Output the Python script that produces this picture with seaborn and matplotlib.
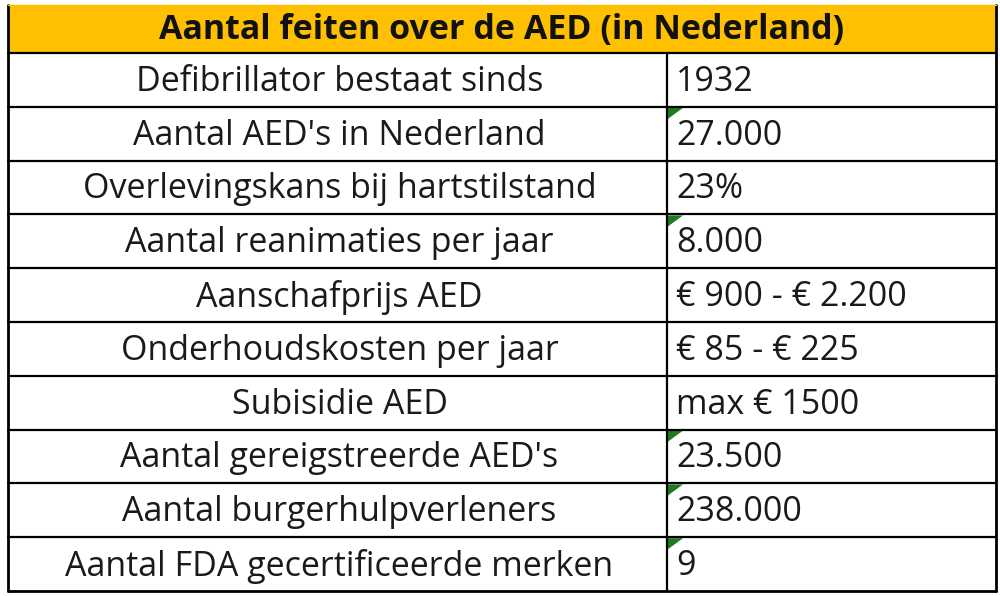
import numpy as np
import matplotlib.pyplot as plt
import seaborn as sns
from matplotlib.patches import Rectangle, Polygon

title = "Aantal feiten over de AED (in Nederland)"
labels = ["Defibrillator bestaat sinds", "Aantal AED's in Nederland",
          "Overlevingskans bij hartstilstand", "Aantal reanimaties per jaar",
          "Aanschafprijs AED", "Onderhoudskosten per jaar", "Subisidie AED",
          "Aantal gereigstreerde AED's", "Aantal burgerhulpverleners",
          "Aantal FDA gecertificeerde merken"]
values = ["1932", "27.000", "23%", "8.000", "€ 900 - € 2.200", "€ 85 - € 225",
          "max € 1500", "23.500", "238.000", "9"]
text_flag = [False, True, False, True, False, False, False, True, True, True]

sns.set_style("white")
plt.rcParams["font.family"] = ["Open Sans", "DejaVu Sans"]

fig = plt.figure(figsize=(10, 5.96), dpi=100)
ax = fig.add_axes([0, 0, 1, 1])
ax.set_xlim(0, 1000)
ax.set_ylim(596, 0)
ax.axis("off")

x0, xm, x1 = 8, 667, 996
y0, hh = 5, 48
rh = (591 - y0 - hh) / len(labels)

ax.add_patch(Rectangle((x0, y0), x1 - x0, hh, facecolor="#FFC000", edgecolor="none"))
ax.text((x0 + x1) / 2, y0 + hh / 2 + 1, title, ha="center", va="center",
        fontsize=24.5, fontweight="bold", color="#111111")

for i, (lab, val) in enumerate(zip(labels, values)):
    yt = y0 + hh + i * rh
    ax.text((x0 + xm) / 2 + 2, yt + rh / 2 + 2, lab, ha="center", va="center",
            fontsize=24.5, color="#1a1a1a")
    ax.text(xm + 9, yt + rh / 2 + 2, val, ha="left", va="center",
            fontsize=24.5, color="#1a1a1a")
    if text_flag[i]:
        ax.add_patch(Polygon([[xm + 1, yt + 1], [xm + 16, yt + 1], [xm + 1, yt + 12]],
                             closed=True, facecolor="#1F7A1F", edgecolor="none"))
    ax.plot([x0, x1], [yt, yt], color="black", lw=1.6)

ax.plot([x0, x1], [591, 591], color="black", lw=2)
ax.plot([x0, x0], [y0, 591], color="black", lw=2)
ax.plot([x1, x1], [y0, 591], color="black", lw=2)
ax.plot([xm, xm], [y0 + hh, 591], color="black", lw=1.6)
ax.plot([x0, x1], [y0, y0], color="#FFC000", lw=1)

fig.savefig("out.png", dpi=100)
